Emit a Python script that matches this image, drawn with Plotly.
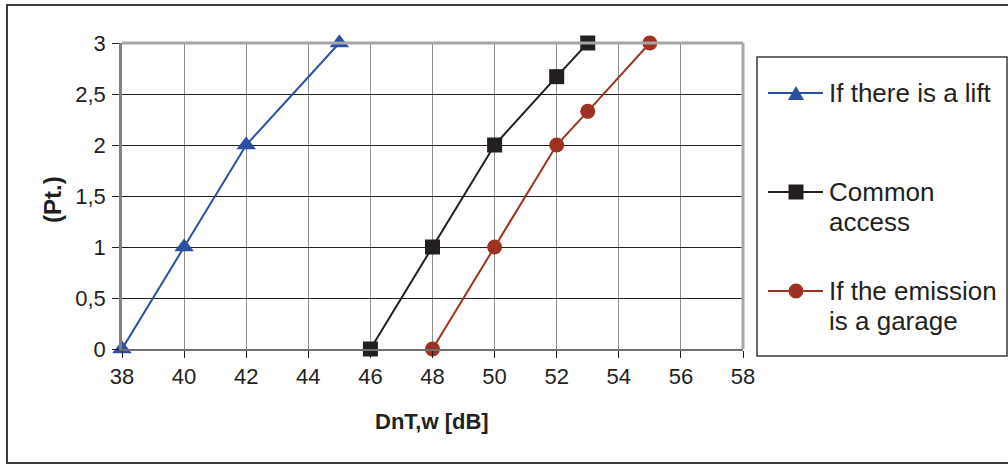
import plotly.graph_objects as go

# Series data: DnT,w [dB] against points
lift_x = [38, 40, 42, 45]
lift_y = [0, 1, 2, 3]

common_x = [46, 48, 50, 52, 53]
common_y = [0, 1, 2, 2.67, 3]

garage_x = [48, 50, 52, 53, 55]
garage_y = [0, 1, 2, 2.33, 3]

series_names = ["If there is a lift", "Common access", "If the emission is a garage"]
x_title = "DnT,w [dB]"
y_title = "(Pt.)"

BLUE = "#2c4fa3"
BLACK = "#231f20"
RED = "#9e3222"
FONT = "Liberation Sans, Arial, sans-serif"

W, H = 1008, 465


def px(x):
    return x / W


def py(y):
    return 1 - y / H


fig = go.Figure()
fig.add_trace(go.Scatter(x=lift_x, y=lift_y, mode="lines+markers", name=series_names[0],
                         line=dict(color=BLUE, width=2),
                         marker=dict(symbol="triangle-up", size=17, color=BLUE),
                         cliponaxis=False))
fig.add_trace(go.Scatter(x=common_x, y=common_y, mode="lines+markers", name=series_names[1],
                         line=dict(color=BLACK, width=2),
                         marker=dict(symbol="square", size=15, color=BLACK),
                         cliponaxis=False))
fig.add_trace(go.Scatter(x=garage_x, y=garage_y, mode="lines+markers", name=series_names[2],
                         line=dict(color=RED, width=2),
                         marker=dict(symbol="circle", size=15, color=RED),
                         cliponaxis=False))

shapes = []
# outer frame
shapes.append(dict(type="rect", xref="paper", yref="paper",
                   x0=px(7), x1=px(1020), y0=py(463), y1=py(5),
                   line=dict(color="#3a3a3a", width=2), layer="below"))
# top and right edges of the plot area
shapes.append(dict(type="line", xref="paper", yref="paper",
                   x0=px(122), x1=px(743), y0=py(43), y1=py(43),
                   line=dict(color="#a6a6a6", width=3)))
shapes.append(dict(type="line", xref="paper", yref="paper",
                   x0=px(743), x1=px(743), y0=py(43), y1=py(349),
                   line=dict(color="#a6a6a6", width=3)))

# legend box
shapes.append(dict(type="rect", xref="paper", yref="paper",
                   x0=px(757), x1=px(1007), y0=py(356), y1=py(57),
                   line=dict(color="#3a3a3a", width=1.5)))

legend_rows = [93, 192, 291]
legend_colors = [BLUE, BLACK, RED]
mx = 796
r = 7.5
for yy, col in zip(legend_rows, legend_colors):
    shapes.append(dict(type="line", xref="paper", yref="paper",
                       x0=px(768), x1=px(823), y0=py(yy), y1=py(yy),
                       line=dict(color=col, width=2)))
# triangle key
t_y = legend_rows[0]
shapes.append(dict(type="path", xref="paper", yref="paper",
                   path=f"M {px(mx - 8)},{py(t_y + 7)} L {px(mx + 8)},{py(t_y + 7)} L {px(mx)},{py(t_y - 7)} Z",
                   fillcolor=BLUE, line=dict(color=BLUE, width=0)))
# square key
s_y = legend_rows[1]
shapes.append(dict(type="rect", xref="paper", yref="paper",
                   x0=px(mx - r), x1=px(mx + r), y0=py(s_y + r), y1=py(s_y - r),
                   fillcolor=BLACK, line=dict(color=BLACK, width=0)))
# circle key
c_y = legend_rows[2]
shapes.append(dict(type="circle", xref="paper", yref="paper",
                   x0=px(mx - r), x1=px(mx + r), y0=py(c_y + r), y1=py(c_y - r),
                   fillcolor=RED, line=dict(color=RED, width=0)))

annotations = []
legend_lines = [
    ("If there is a lift", 93),
    ("Common", 192),
    ("access", 222),
    ("If the emission", 291),
    ("is a garage", 321),
]
for txt, yy in legend_lines:
    annotations.append(dict(text=txt, xref="paper", yref="paper", x=px(827), y=py(yy),
                            xanchor="left", yanchor="middle", showarrow=False,
                            font=dict(family=FONT, size=26, color=BLACK)))

annotations.append(dict(text=f"<b>{x_title}</b>", xref="paper", yref="paper",
                        x=px(432), y=py(421), xanchor="center", yanchor="middle",
                        showarrow=False, font=dict(family=FONT, size=22, color=BLACK)))
annotations.append(dict(text=f"<b>{y_title}</b>", xref="paper", yref="paper",
                        x=px(52), y=py(200), xanchor="center", yanchor="middle",
                        textangle=-90, showarrow=False,
                        font=dict(family=FONT, size=24, color=BLACK)))

fig.update_layout(
    width=W, height=H, autosize=False,
    margin=dict(l=0, r=0, t=0, b=0),
    paper_bgcolor="white", plot_bgcolor="white",
    template="none",
    showlegend=False,
    separators=",.",
    font=dict(family=FONT, color=BLACK),
    shapes=shapes,
    annotations=annotations,
    xaxis=dict(domain=[122 / W, 743 / W], range=[38, 58], dtick=2, tick0=38,
               showgrid=True, gridcolor="#8c8c8c", gridwidth=1.3,
               showline=True, linecolor="#707070", linewidth=2,
               ticks="outside", ticklen=7, tickcolor=BLACK, tickwidth=1,
               zeroline=False, automargin=False,
               tickfont=dict(family=FONT, size=22, color=BLACK)),
    yaxis=dict(domain=[(H - 349) / H, (H - 43) / H], range=[0, 3], dtick=0.5, tick0=0,
               showgrid=True, gridcolor=BLACK, gridwidth=1,
               showline=True, linecolor="#808080", linewidth=2.5,
               ticks="outside", ticklen=7, tickcolor=BLACK, tickwidth=1,
               zeroline=False, automargin=False, ticklabelstandoff=2,
               tickfont=dict(family=FONT, size=22, color=BLACK)),
)

fig.write_html("out.html")
